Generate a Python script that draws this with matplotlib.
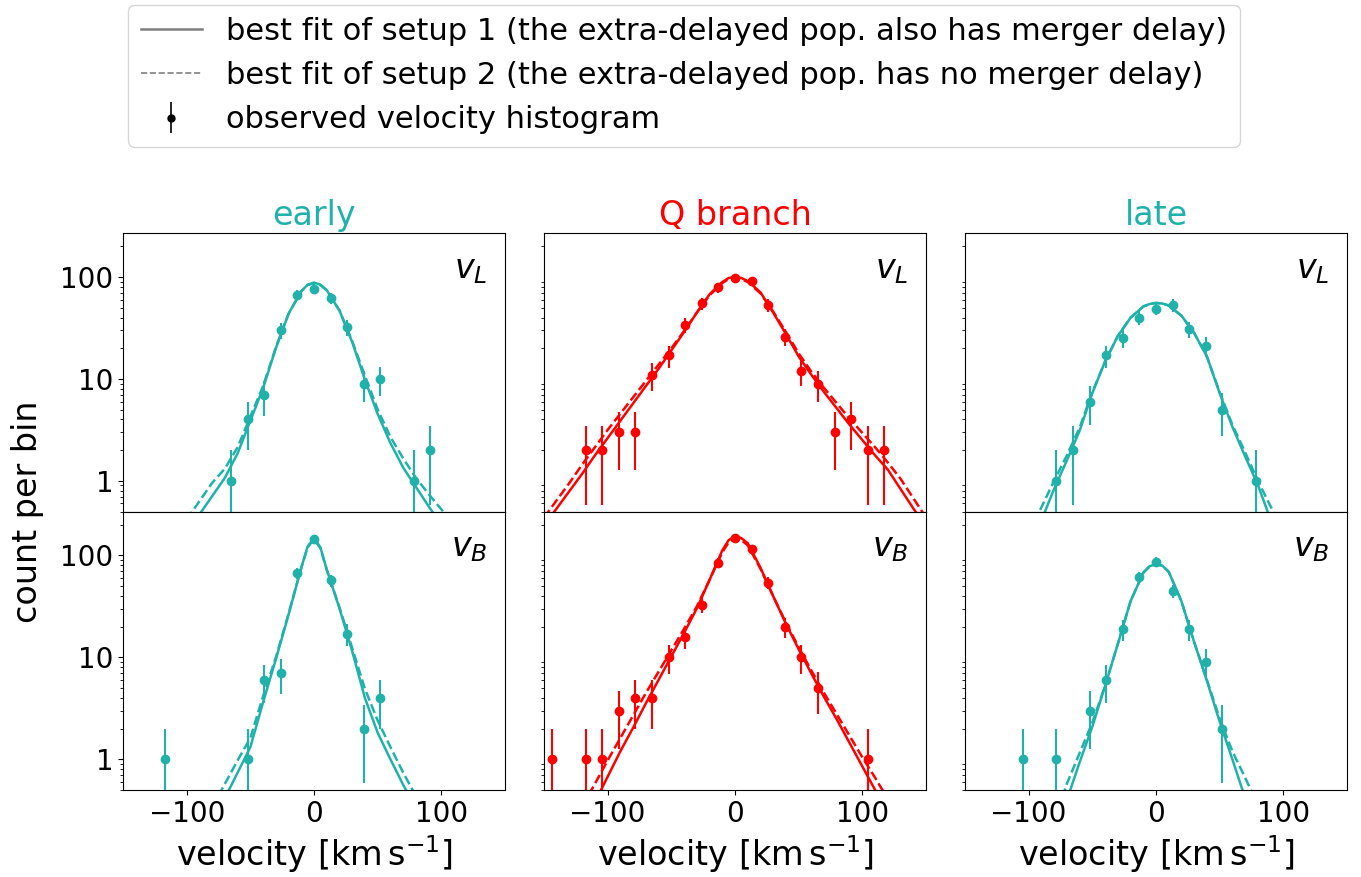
import numpy as np
import matplotlib
matplotlib.use('Agg')
import matplotlib.pyplot as plt
from matplotlib.lines import Line2D
from matplotlib.ticker import FixedLocator, FixedFormatter, NullFormatter, LogLocator

# ---------------- data ----------------
# 23 velocity bins between -150 and 150 km/s
bin_edges = np.linspace(-150, 150, 24)
bin_centers = 0.5 * (bin_edges[:-1] + bin_edges[1:])

columns = ['early', 'Q branch', 'late']
col_colors = ['#20b2aa', 'red', '#20b2aa']
rows = [r'$v_L$', r'$v_B$']

# observed histogram counts per bin (0 = empty bin, not drawn)
counts_early_L = [0, 0, 0, 0, 0, 0, 1, 4, 7, 30, 67, 77, 62, 32, 9, 10, 0, 1, 2, 0, 0, 0, 0]
counts_early_B = [0, 0, 1, 0, 0, 0, 0, 1, 6, 7, 67, 145, 57, 17, 2, 4, 0, 0, 0, 0, 0, 0, 0]
counts_q_L = [0, 0, 2, 2, 3, 3, 11, 17, 34, 55, 79, 98, 91, 53, 26, 12, 9, 3, 4, 2, 2, 0, 0]
counts_q_B = [1, 0, 1, 1, 3, 4, 4, 10, 16, 33, 85, 147, 115, 54, 20, 10, 5, 0, 0, 1, 0, 0, 0]
counts_late_L = [0, 0, 0, 0, 0, 1, 2, 6, 17, 25, 40, 49, 53, 31, 21, 5, 0, 1, 0, 0, 0, 0, 0]
counts_late_B = [0, 0, 0, 1, 0, 1, 0, 3, 6, 19, 61, 87, 45, 19, 9, 2, 0, 0, 0, 0, 0, 0, 0]

# best-fit curves: velocity and log10(count)
fitv_early_L = [-100, -90, -80, -70, -60, -50, -40, -30, -20, -10, -5, 0, 5, 10, 20, 30, 40, 50, 60, 70, 80, 90, 100, 110]
fit1_early_L = [-0.53, -0.33, -0.15, 0.03, 0.27, 0.59, 0.91, 1.30, 1.64, 1.86, 1.925, 1.945, 1.925, 1.87, 1.67, 1.36, 0.99, 0.655, 0.37, 0.13, -0.06, -0.25, -0.43, -0.60]
fit2_early_L = [-0.38, -0.20, -0.02, 0.12, 0.33, 0.63, 0.93, 1.31, 1.64, 1.86, 1.92, 1.94, 1.92, 1.87, 1.67, 1.37, 1.03, 0.70, 0.43, 0.22, 0.03, -0.13, -0.28, -0.43]

fitv_early_B = [-80, -70, -60, -50, -40, -30, -20, -10, -5, 0, 5, 10, 20, 30, 40, 50, 60, 70, 80]
fit1_early_B = [-0.63, -0.38, -0.13, 0.12, 0.56, 0.98, 1.42, 1.88, 2.09, 2.17, 2.08, 1.86, 1.48, 1.06, 0.60, 0.26, 0.00, -0.25, -0.48]
fit2_early_B = [-0.47, -0.24, -0.01, 0.21, 0.62, 1.00, 1.43, 1.88, 2.08, 2.16, 2.07, 1.86, 1.49, 1.09, 0.69, 0.38, 0.12, -0.13, -0.36]

fitv_q_L = [-150, -140, -130, -120, -110, -100, -90, -80, -70, -60, -50, -40, -30, -20, -10, -5, 0,
            5, 10, 20, 30, 40, 50, 60, 70, 80, 90, 100, 110, 120, 130, 140, 150]
fit1_q_L = [-0.44, -0.27, -0.10, 0.07, 0.25, 0.42, 0.59, 0.76, 0.93, 1.10, 1.28, 1.46, 1.65, 1.83, 1.95, 1.99, 2.00,
            1.99, 1.96, 1.85, 1.65, 1.44, 1.22, 1.04, 0.87, 0.71, 0.55, 0.40, 0.25, 0.11, -0.08, -0.27, -0.45]
fit2_q_L = [-0.36, -0.19, -0.02, 0.16, 0.33, 0.50, 0.66, 0.82, 0.98, 1.14, 1.30, 1.47, 1.65, 1.82, 1.94, 1.98, 1.99,
            1.98, 1.95, 1.84, 1.66, 1.46, 1.25, 1.07, 0.91, 0.76, 0.61, 0.47, 0.33, 0.18, 0.02, -0.17, -0.36]

fitv_q_B = [-120, -110, -100, -90, -80, -70, -60, -50, -40, -30, -20, -10, -5, 0,
            5, 10, 20, 30, 40, 50, 60, 70, 80, 90, 100, 110, 120]
fit1_q_B = [-0.66, -0.42, -0.17, 0.08, 0.31, 0.55, 0.78, 1.01, 1.24, 1.48, 1.76, 2.05, 2.15, 2.19,
            2.17, 2.12, 1.88, 1.60, 1.33, 1.08, 0.84, 0.61, 0.39, 0.16, -0.07, -0.30, -0.53]
fit2_q_B = [-0.46, -0.24, -0.01, 0.21, 0.43, 0.65, 0.86, 1.07, 1.28, 1.50, 1.76, 2.03, 2.13, 2.17,
            2.15, 2.10, 1.87, 1.60, 1.34, 1.10, 0.87, 0.65, 0.44, 0.23, 0.02, -0.18, -0.39]

fitv_late_L = [-100, -90, -80, -70, -60, -50, -40, -30, -20, -10, -5, 0, 5, 10, 20, 30, 40, 50, 60, 70, 80, 90, 100]
fit1_late_L = [-0.68, -0.39, -0.08, 0.20, 0.49, 0.86, 1.17, 1.42, 1.60, 1.71, 1.735, 1.745, 1.74, 1.72, 1.62, 1.45, 1.22, 0.86, 0.53, 0.24, -0.04, -0.38, -0.66]
fit2_late_L = [-0.52, -0.26, 0.00, 0.25, 0.52, 0.87, 1.17, 1.42, 1.60, 1.71, 1.735, 1.745, 1.74, 1.72, 1.62, 1.45, 1.22, 0.87, 0.55, 0.28, 0.00, -0.25, -0.50]

fitv_late_B = [-80, -70, -60, -50, -40, -30, -20, -10, -5, 0, 5, 10, 20, 30, 40, 50, 60, 70, 80]
fit1_late_B = [-0.85, -0.40, -0.03, 0.32, 0.72, 1.13, 1.55, 1.83, 1.895, 1.915, 1.90, 1.84, 1.55, 1.15, 0.77, 0.37, 0.00, -0.38, -0.80]
fit2_late_B = [-0.62, -0.24, 0.06, 0.36, 0.72, 1.13, 1.55, 1.83, 1.895, 1.915, 1.90, 1.84, 1.55, 1.15, 0.78, 0.40, 0.08, -0.18, -0.45]

panel_counts = [[counts_early_L, counts_q_L, counts_late_L],
                [counts_early_B, counts_q_B, counts_late_B]]
panel_fitv = [[fitv_early_L, fitv_q_L, fitv_late_L],
              [fitv_early_B, fitv_q_B, fitv_late_B]]
panel_fit1 = [[fit1_early_L, fit1_q_L, fit1_late_L],
              [fit1_early_B, fit1_q_B, fit1_late_B]]
panel_fit2 = [[fit2_early_L, fit2_q_L, fit2_late_L],
              [fit2_early_B, fit2_q_B, fit2_late_B]]

xticks = [-100, 0, 100]
yticks = [1, 10, 100]
ytick_labels = ['1', '10', '100']
xlim = (-150, 150)
ylim = (0.5, 270)

legend_labels = ['best fit of setup 1 (the extra-delayed pop. also has merger delay)',
                 'best fit of setup 2 (the extra-delayed pop. has no merger delay)',
                 'observed velocity histogram']

# ---------------- figure ----------------
fig, axes = plt.subplots(2, 3, figsize=(13.61, 8.77), dpi=100)
fig.subplots_adjust(left=0.0904, right=0.9897, bottom=0.0992, top=0.7343,
                    wspace=0.102, hspace=0.0)

for r in range(2):
    for c in range(3):
        ax = axes[r, c]
        color = col_colors[c]
        ax.set_yscale('log', nonpositive='clip')
        cnt = np.array(panel_counts[r][c], dtype=float)
        m = cnt > 0
        ax.errorbar(bin_centers[m], cnt[m], yerr=np.sqrt(cnt[m]), fmt='o',
                    color=color, ms=6, elinewidth=1.5, capsize=0, zorder=3)
        ax.plot(panel_fitv[r][c], 10 ** np.array(panel_fit1[r][c]), '-',
                color=color, lw=1.8, zorder=2)
        ax.plot(panel_fitv[r][c], 10 ** np.array(panel_fit2[r][c]), '--',
                color=color, lw=1.8, zorder=2)
        ax.set_xlim(*xlim)
        ax.set_ylim(*ylim)
        ax.set_xticks(xticks)
        if c == 0:
            ax.yaxis.set_major_locator(FixedLocator(yticks))
            ax.yaxis.set_major_formatter(FixedFormatter(ytick_labels))
        else:
            ax.set_yticks([])
        ax.yaxis.set_minor_locator(LogLocator(base=10, subs=np.arange(2, 10)))
        ax.yaxis.set_minor_formatter(NullFormatter())
        ax.tick_params(axis='both', which='major', labelsize=20)
        if r == 0:
            ax.tick_params(axis='x', which='both', bottom=False, labelbottom=False)
            ax.set_title(columns[c], color=color, fontsize=24)
        else:
            ax.set_xlabel(r'velocity [$\mathrm{km\,s^{-1}}$]', fontsize=24)
        ax.text(0.955, 0.93, rows[r], transform=ax.transAxes, ha='right', va='top',
                fontsize=24)

fig.text(0.02, 0.4162, 'count per bin', rotation=90, va='center', ha='center', fontsize=24)

h1 = Line2D([], [], color='gray', lw=1.8, ls='-')
h2 = Line2D([], [], color='gray', lw=1.2, ls='--')
h3 = axes[0, 0].errorbar([np.nan], [np.nan], yerr=[1.0], fmt='o', color='k', ms=5,
                         elinewidth=1.2, capsize=0)
fig.legend([h1, h2, h3], legend_labels, loc='upper center', bbox_to_anchor=(0.5026, 1.0),
           fontsize=22, frameon=True, borderaxespad=0.15)

fig.savefig('out.png', dpi=100)
